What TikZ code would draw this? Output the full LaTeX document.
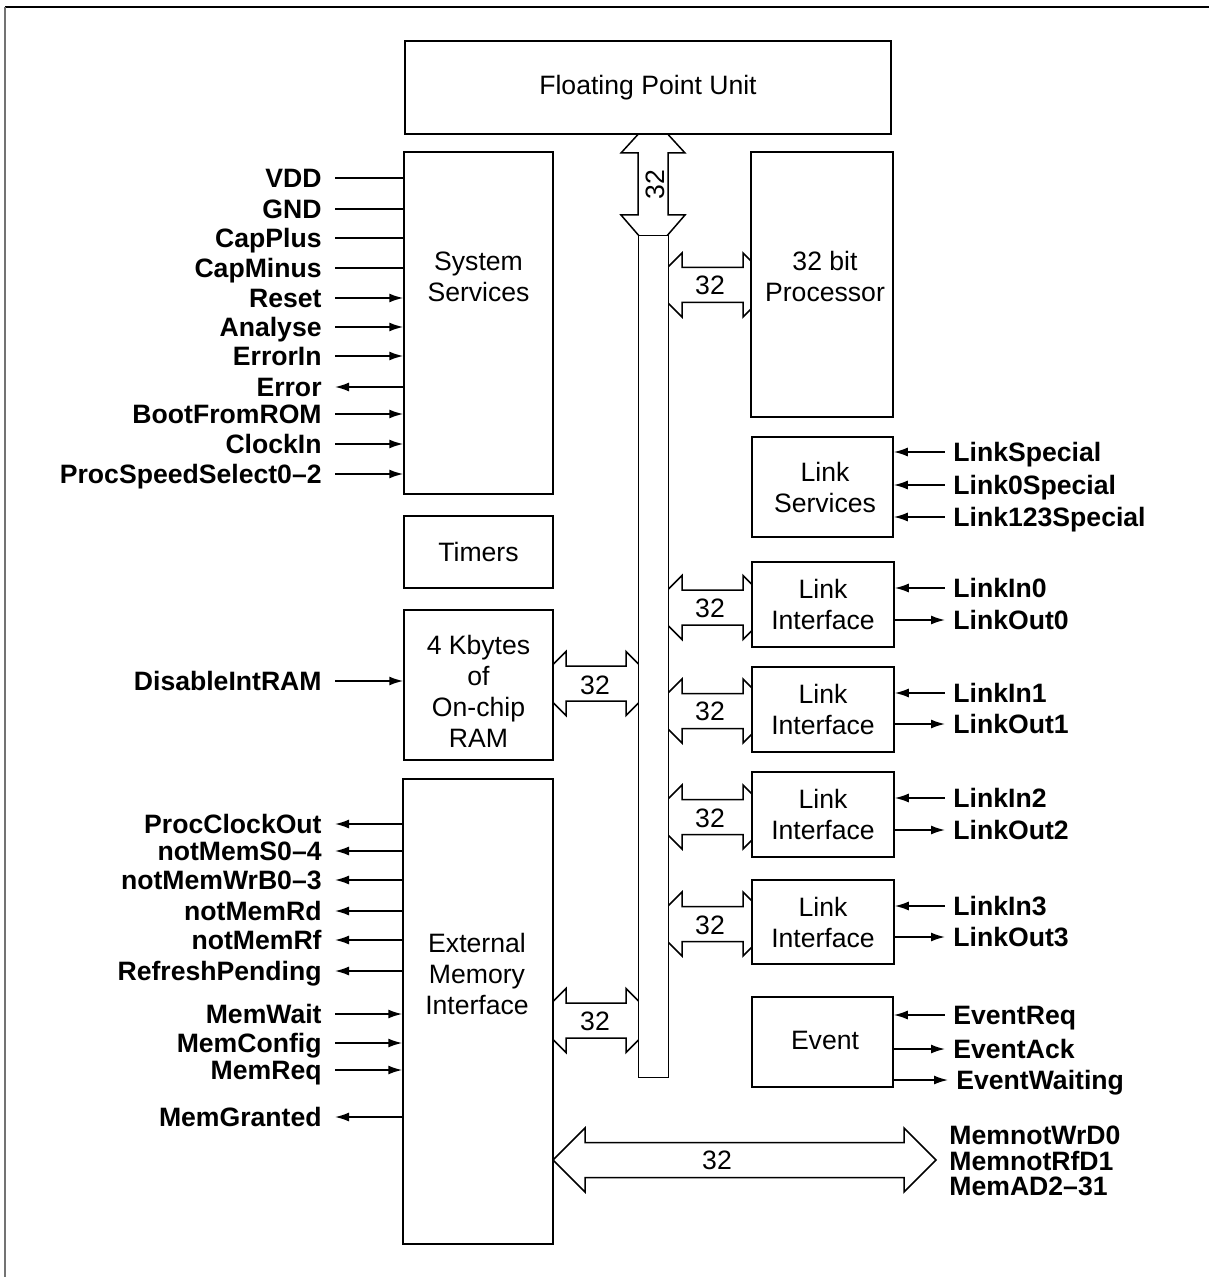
\documentclass[tikz,border=0pt]{standalone}
\usepackage{fontspec}
\setmainfont{Liberation Sans}
\usetikzlibrary{arrows.meta,calc}
\newcommand\hbusarrow[3]{% #1 left head base x, #2 right head base x, #3 centre y (px)
  \draw[busarr] ({#1-32},#3) -- (#1,{#3-32}) -- (#1,{#3-17.5}) -- (#2,{#3-17.5}) -- (#2,{#3-32})
    -- ({#2+32},#3) -- (#2,{#3+32}) -- (#2,{#3+17.5}) -- (#1,{#3+17.5}) -- (#1,{#3+32}) -- cycle;}
\begin{document}
\begin{tikzpicture}[x=0.5pt,y=-0.5pt,
  blk/.style={draw,fill=white,line width=0.75pt,inner sep=0pt,align=center,
    font=\fontsize{13.3}{15.5}\selectfont},
  txt/.style={inner sep=0pt,align=center,font=\fontsize{13.3}{15.5}\selectfont},
  sig/.style={font=\bfseries\fontsize{13.3}{15.5}\selectfont,inner sep=0pt,
    text height=9.5pt,text depth=0pt},
  num/.style={font=\fontsize{13.3}{15.5}\selectfont,inner sep=0pt,
    text height=9.5pt,text depth=0pt},
  wire/.style={line width=0.8pt},
  plain/.style={wire},
  into/.style={wire,-{Latex[length=7pt,width=4.5pt]}},
  outof/.style={wire,{Latex[length=7pt,width=4.5pt]}-},
  busarr/.style={draw,fill=white,line width=0.75pt,line join=miter}
]
\useasboundingbox (0,0) rectangle (1209,1277);
% frame
\draw[line width=1.1pt] (5,7) -- (1209,7);
\draw[line width=0.75pt,black!55] (5,7) -- (5,1277);

% bus arrows (drawn first, tips hidden by boxes)
\draw[busarr] (653,118) -- (685,153) -- (668,153) -- (668,215) -- (685,215) -- (653,252)
  -- (621,215) -- (638,215) -- (638,153) -- (621,153) -- cycle;
\hbusarrow{682}{743}{285}
\hbusarrow{566}{626}{683.5}
\hbusarrow{682}{743}{607.5}
\hbusarrow{682}{743}{711}
\hbusarrow{682}{743}{817}
\hbusarrow{682}{743}{924}
\hbusarrow{566}{626}{1020.5}
\hbusarrow{585}{904}{1160}

% blocks
\node[blk,minimum width=243pt,minimum height=46.5pt] (fpu) at (648,87.5) {Floating Point Unit};
\node[blk,minimum width=74.5pt,minimum height=171pt] (sys) at (478.5,323) {};
\node[txt] (systxt) at (478.5,277) {System\\Services};
\node[blk,minimum width=74.5pt,minimum height=36pt] (tim) at (478.5,552) {Timers};
\node[blk,minimum width=74.5pt,minimum height=75pt] (ram) at (478.5,685) {};
\node[txt] (ramtxt) at (478.5,691) {4 Kbytes\\of\\On-chip\\RAM};
\node[blk,minimum width=75pt,minimum height=232.5pt] (emi) at (478,1011.5) {};
\node[txt] (emitxt) at (477,974) {External\\Memory\\Interface};
\node[blk,minimum width=71pt,minimum height=132.5pt] (proc) at (822,284.5) {};
\node[txt] (proctxt) at (825,276) {32 bit\\Processor};
\node[blk,minimum width=70.5pt,minimum height=50pt] (lsvc) at (822.5,487) {};
\node[txt] (lsvctxt) at (825,487.5) {Link\\Services};
\node[blk,minimum width=71pt,minimum height=42.5pt] (li0) at (823,604.5) {Link\\Interface};
\node[blk,minimum width=71pt,minimum height=42.5pt] (li1) at (823,709.5) {Link\\Interface};
\node[blk,minimum width=71pt,minimum height=42.5pt] (li2) at (823,814.5) {Link\\Interface};
\node[blk,minimum width=71pt,minimum height=42pt] (li3) at (823,922) {Link\\Interface};
\node[blk,minimum width=70.5pt,minimum height=45pt] (evt) at (822.5,1042) {};
\node[txt] (evttxt) at (825,1040) {Event};
\node[draw,fill=white,line width=0.5pt,minimum width=15pt,minimum height=420.5pt,inner sep=0pt]
  (bus) at (653,656.5) {};

% bus widths
\node[num,rotate=90] (n0) at (655,185) {32};
\node[num] (n1) at (710,285) {32};
\node[num] (n2) at (595,685) {32};
\node[num] (n3) at (710,608) {32};
\node[num] (n4) at (710,711) {32};
\node[num] (n5) at (710,818) {32};
\node[num] (n6) at (710,925) {32};
\node[num] (n7) at (595,1021) {32};
\node[num] (n8) at (717,1160) {32};

% left signals: system services
\foreach \t/\y/\n/\s in {VDD/178/vdd/plain, GND/209/gnd/plain, CapPlus/238/capp/plain,
  CapMinus/268/capm/plain, Reset/298/rst/into, Analyse/327/ana/into, ErrorIn/356/erri/into,
  Error/387/err/outof, BootFromROM/414/boot/into, ClockIn/444/clk/into,
  ProcSpeedSelect0–2/474/pss/into}{
  \node[sig,anchor=east] (\n) at (322,\y) {\t};
  \draw[\s] ([xshift=6.5pt]\n.east) -- (sys.west |- \n.east);
}
% RAM
\node[sig,anchor=east] (dis) at (322,681) {DisableIntRAM};
\draw[into] ([xshift=6.5pt]dis.east) -- (ram.west |- dis.east);
% external memory interface
\foreach \t/\y/\n/\s in {ProcClockOut/824/pco/outof, notMemS0–4/851/nms/outof,
  notMemWrB0–3/880/nmw/outof, notMemRd/911/nmrd/outof, notMemRf/940/nmrf/outof,
  RefreshPending/971/rfp/outof, MemWait/1014/mw/into, MemConfig/1043/mc/into,
  MemReq/1070/mr/into, MemGranted/1117/mg/outof}{
  \node[sig,anchor=east] (\n) at (322,\y) {\t};
  \draw[\s] ([xshift=6.5pt]\n.east) -- (emi.west |- \n.east);
}
% right signals
\foreach \t/\y/\n/\b/\s in {LinkSpecial/452/lsp/lsvc/outof, Link0Special/485/l0sp/lsvc/outof,
  Link123Special/517/l123sp/lsvc/outof,
  LinkIn0/588/lin0/li0/outof, LinkOut0/620/lout0/li0/into,
  LinkIn1/693/lin1/li1/outof, LinkOut1/724/lout1/li1/into,
  LinkIn2/798/lin2/li2/outof, LinkOut2/830/lout2/li2/into,
  LinkIn3/906/lin3/li3/outof, LinkOut3/937/lout3/li3/into,
  EventReq/1015/erq/evt/outof, EventAck/1049/eack/evt/into}{
  \node[sig,anchor=west] (\n) at (953,\y) {\t};
  \draw[\s] (\b.east |- \n.west) -- ([xshift=-4pt]\n.west);
}
\node[sig,anchor=west] (ewt) at (956,1080) {EventWaiting};
\draw[into] (evt.east |- ewt.west) -- ([xshift=-4pt]ewt.west);
% memory bus labels
\node[font=\bfseries\fontsize{13.3}{12.75}\selectfont,inner sep=0pt,align=left,anchor=west]
  (memlbl) at (949,1161) {MemnotWrD0\\MemnotRfD1\\MemAD2–31};
\end{tikzpicture}
\end{document}
